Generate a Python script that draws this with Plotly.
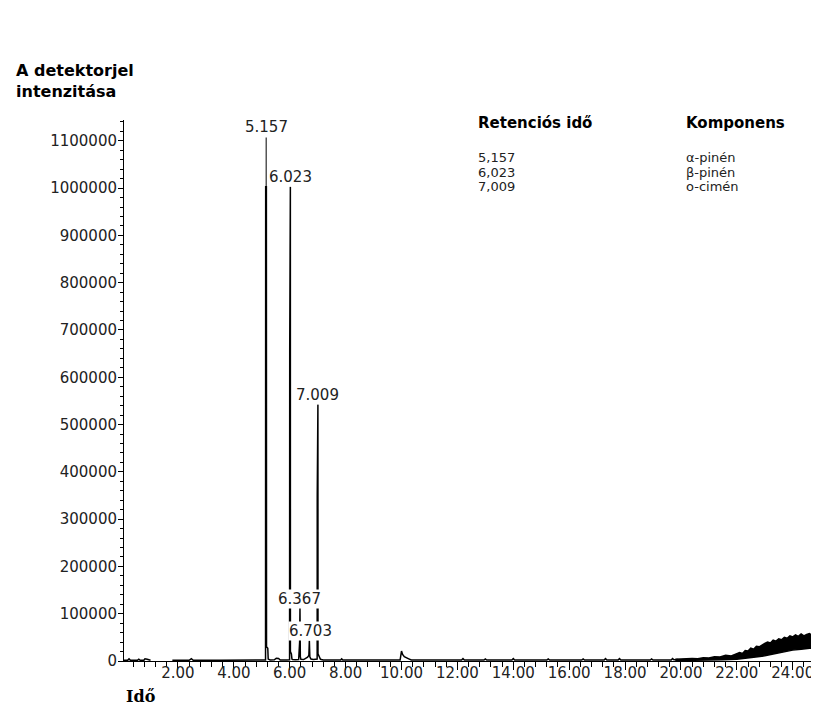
import plotly.graph_objects as go

# ---- chromatogram data (retention time in min, detector signal) ----
rt = [0.07, 0.20, 0.25, 0.30, 0.45, 0.55, 0.60, 0.65, 0.78, 0.82, 0.90, 1.02,
      1.40,
      1.80, 2.40, 2.48, 2.55, 3.50, 4.60, 5.10,
      5.135, 5.140, 5.165, 5.170, 5.185, 5.200, 5.215, 5.230,
      5.30, 5.45, 5.52, 5.60, 5.66, 5.90,
      5.995, 6.000, 6.023, 6.025, 6.045, 6.060, 6.080, 6.10,
      6.20, 6.32, 6.355, 6.367, 6.380, 6.40, 6.50, 6.58, 6.64,
      6.685, 6.703, 6.720, 6.76, 6.85, 6.96,
      6.982, 6.985, 7.009, 7.012, 7.040, 7.07, 7.10, 7.20,
      7.50, 7.82, 7.86, 7.90, 8.50, 9.30, 9.95,
      10.00, 10.04, 10.10, 10.18, 10.26, 10.35,
      11.0, 12.15, 12.2, 12.25, 12.95, 13.0, 13.05, 13.95, 14.0, 14.05,
      15.2, 15.25, 15.3, 16.45, 16.5, 16.55, 17.25, 17.3, 17.35,
      17.75, 17.8, 17.85, 18.9, 18.95, 19.0, 19.65, 19.7, 19.75, 19.9]
signal = [1500, 1500, 4500, 1500, 1500, 1500, 4000, 1500, 1500, 4500, 3500, 1500,
          None,
          1500, 1500, 5000, 1500, 1500, 1500, 1500,
          2000, 1003000, 1003000, 30000, 29000, 28000, 27000, 4000,
          2000, 2500, 6000, 5500, 2000, 2000,
          2500, 660000, 1003000, 20000, 18000, 15000, 4000, 3000,
          2500, 3000, 40000, 112000, 9000, 3500, 3000, 5000, 8000,
          12000, 43000, 9000, 4000, 3000, 3500,
          4000, 350000, 543000, 15000, 12000, 9000, 3500, 2000,
          2000, 2000, 4500, 2000, 2000, 2000, 2000,
          21000, 14000, 9000, 6000, 4500, 2000,
          2000, 2000, 5000, 2000, 2000, 4500, 2000, 2000, 5000, 2000,
          2000, 4500, 2000, 2000, 4500, 2000, 2000, 5000, 2000,
          2000, 5000, 2000, 2000, 4500, 2000, 2000, 5000, 2500, 3000]

# noisy rising baseline at the end of the run (envelope of the noise band)
band_t_upper = [19.8, 20.0, 20.2, 20.4, 20.6, 20.8, 21.0, 21.2, 21.4, 21.6, 21.8,
                22.0, 22.1, 22.2, 22.3, 22.4, 22.5, 22.6, 22.7, 22.8, 22.9,
                23.0, 23.1, 23.2, 23.3, 23.4, 23.5, 23.6, 23.7, 23.8, 23.9,
                24.0, 24.1, 24.2, 24.3, 24.4, 24.5, 24.6, 24.7, 24.8, 24.94]
band_upper = [3500, 4500, 4000, 5500, 5000, 7000, 6500, 9000, 8500, 12000, 10500,
              15000, 18000, 16000, 22000, 21000, 27000, 25000, 31000, 30000, 34000,
              37000, 40000, 38000, 44000, 42000, 47000, 45000, 50000, 48000, 53000,
              51000, 55000, 52000, 57000, 53000, 56000, 58000, 54000, 57000, 53000]
band_t_lower = [19.8, 20.4, 21.0, 21.5, 22.0, 22.3, 22.6, 23.0, 23.3, 23.6,
                24.0, 24.3, 24.6, 24.94]
band_lower = [1000, 1200, 1500, 2500, 3500, 5000, 8000, 11000, 15000, 19000,
              23000, 25000, 27000, 26000]

# peak labels
peak_rt = [5.157, 6.023, 7.009, 6.367, 6.703]
peak_label = ["5.157", "6.023", "7.009", "6.367", "6.703"]
peak_label_x = [5.157, 6.023, 7.009, 6.367, 6.75]
peak_label_y = [1129000, 1024000, 562000, 131000, 64000]

# table of identified components
table_rt = ["5,157", "6,023", "7,009"]
table_comp = ["α-pinén", "β-pinén", "o-cimén"]

X_RANGE = [0.07, 24.94]
Y_RANGE = [0, 1144000]

fig = go.Figure()
fig.add_trace(go.Scatter(x=rt, y=signal, mode="lines",
                         line=dict(color="black", width=1.5),
                         connectgaps=False, showlegend=False, hoverinfo="skip"))
fig.add_trace(go.Scatter(x=band_t_lower, y=band_lower, mode="lines",
                         line=dict(color="black", width=1.5),
                         showlegend=False, hoverinfo="skip"))
fig.add_trace(go.Scatter(x=band_t_upper, y=band_upper, mode="lines",
                         line=dict(color="black", width=1.5),
                         fill="tonexty", fillcolor="black",
                         showlegend=False, hoverinfo="skip"))

# connector from 5.157 label to its peak
fig.add_shape(type="line", xref="x", yref="y",
              x0=peak_rt[0], x1=peak_rt[0], y0=1003000, y1=1107000,
              line=dict(color="black", width=1))

num_font = dict(family="DejaVu Sans", size=15, color="#222")
for lx, ly, txt in zip(peak_label_x, peak_label_y, peak_label):
    fig.add_annotation(x=lx, y=ly, xref="x", yref="y", text=txt,
                       showarrow=False, xanchor="center", yanchor="middle",
                       bgcolor="white", borderpad=0, font=num_font)

# axis titles
fig.add_annotation(x=-0.1583, y=1.072, xref="paper", yref="paper",
                   text="A detektorjel<br>intenzitása", showarrow=False,
                   xanchor="left", yanchor="middle", align="left",
                   font=dict(family="DejaVu Sans", size=16, color="black", weight="bold"))
fig.add_annotation(x=0.0, y=-0.066, xref="paper", yref="paper",
                   text="Idő", showarrow=False, xanchor="left", yanchor="middle",
                   font=dict(family="DejaVu Serif", size=16, color="black", weight="bold"))

# component table
hdr_font = dict(family="DejaVu Sans", size=15, color="black", weight="bold")
row_font = dict(family="DejaVu Sans", size=13, color="#222")
fig.add_annotation(x=0.5065, y=0.9944, xref="paper", yref="paper", text="Retenciós idő",
                   showarrow=False, xanchor="left", yanchor="middle", font=hdr_font)
fig.add_annotation(x=0.8058, y=0.9944, xref="paper", yref="paper", text="Komponens",
                   showarrow=False, xanchor="left", yanchor="middle", font=hdr_font)
row_y = [0.9306, 0.9034, 0.8762]
for ry, a, b in zip(row_y, table_rt, table_comp):
    fig.add_annotation(x=0.5065, y=ry, xref="paper", yref="paper", text=a,
                       showarrow=False, xanchor="left", yanchor="middle", font=row_font)
    fig.add_annotation(x=0.8058, y=ry, xref="paper", yref="paper", text=b,
                       showarrow=False, xanchor="left", yanchor="middle", font=row_font)

# the page body has an 8px margin, so the figure is drawn 8px in from the corner
fig.update_layout(
    width=811, height=702,
    margin=dict(l=116, r=0, t=112, b=49),
    paper_bgcolor="white", plot_bgcolor="white",
    showlegend=False,
    xaxis=dict(range=X_RANGE, showgrid=False, zeroline=False,
               showline=True, linecolor="black", linewidth=1,
               ticks="outside", ticklen=8, tickcolor="black", tickwidth=1,
               tick0=0, dtick=2, tickformat=".2f",
               tickfont=num_font, ticklabelstandoff=-10,
               minor=dict(dtick=0.4, tick0=0, ticks="outside", ticklen=5,
                          tickcolor="black", showgrid=False)),
    yaxis=dict(range=Y_RANGE, showgrid=False, zeroline=False,
               showline=True, linecolor="black", linewidth=1,
               ticks="outside", ticklen=5, tickcolor="black", tickwidth=1,
               tick0=0, dtick=100000, tickformat="d",
               tickfont=num_font, ticklabelstandoff=-2,
               minor=dict(dtick=20000, tick0=0, ticks="outside", ticklen=3,
                          tickcolor="black", showgrid=False)),
)

fig.write_html("out.html")
